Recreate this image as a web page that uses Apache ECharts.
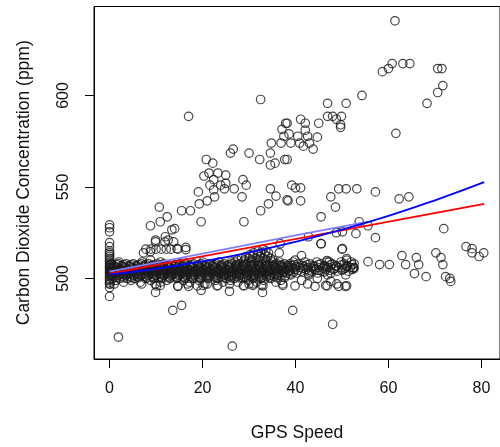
<!DOCTYPE html>
<html><head><meta charset="utf-8">
<script src="https://cdn.jsdelivr.net/npm/echarts@6/dist/echarts.min.js"></script>
<style>html,body{margin:0;padding:0;background:#fff}#c{width:500px;height:447px}</style>
</head><body><div id="c"></div>
<script>
// ---- data (GPS speed, CO2 ppm) ----
const xTicks = [0, 20, 40, 60, 80];
const yTicks = [500, 550, 600];
const xTitle = 'GPS Speed';
const yTitle = 'Carbon Dioxide Concentration (ppm)';

// column of points at speed ~0
const zeroColumnCO2 = [529.3, 527.7, 525.5, 519.6, 517.4, 515, 514, 513, 512, 511, 510, 509, 508, 507, 506, 505, 504, 503, 502, 501, 500, 499, 498, 497, 495, 490.2];

// dense band rows: each row = [co2, speeds...]
const bandRows = [
  [509, 2, 7, 11, 16, 20, 23.5, 26.2, 27, 28.8, 30.4, 31.9, 33.5, 35, 36.5, 39.5, 42, 44.6, 47.3, 49.8, 52],
  [508, 0.4, 1.9, 3.6, 5.1, 6.9, 8.4, 10.2, 11.6, 13.3, 15, 16.4, 18.1, 19.8, 21.5, 23, 24.6, 26.3, 27.9, 29.4, 31.2, 32.7, 34.5, 36, 37.6, 38.8, 40.6, 43.1, 45.4, 47.9, 50.5, 52.6],
  [507.5, 0.1, 1.5, 3.0, 4.6, 6.2, 7.8, 9.4, 11.0, 12.7, 14.3, 15.9, 17.6, 19.2, 20.8, 22.5, 24.1, 25.7, 27.3, 29.0, 30.6, 32.2, 33.9, 35.5, 37.0, 39.8, 42.5, 45.0, 47.6, 50.0, 52.2],
  [507, 0.9, 2.6, 4.2, 5.8, 7.5, 9.1, 10.8, 12.4, 14, 15.7, 17.3, 19, 20.6, 22.2, 23.9, 25.4, 27.1, 28.6, 30.3, 31.9, 33.6, 35.2, 36.8, 38.3, 39.2, 41.5, 43.9, 46.2, 48.6, 51],
  [506.5, 1.1, 2.8, 4.3, 6.0, 7.6, 9.2, 10.9, 12.5, 14.1, 15.8, 17.4, 19.0, 20.7, 22.3, 23.9, 25.6, 27.2, 28.8, 30.4, 32.1, 33.7, 35.3, 37.0, 38.6, 40.1, 41.9, 44.0, 46.3, 48.8, 51.1],
  [506, 0.2, 1.6, 3.1, 4.8, 6.4, 8, 9.7, 11.3, 12.9, 14.6, 16.1, 17.8, 19.4, 21, 22.7, 24.3, 25.9, 27.5, 29.1, 30.7, 32.4, 34, 35.7, 37.2, 38.5, 40.9, 42.7, 45, 47, 49.3, 51.8, 52.5],
  [505.5, 0.4, 2.0, 3.6, 5.2, 6.8, 8.4, 10.0, 11.7, 13.3, 14.9, 16.6, 18.2, 19.8, 21.5, 23.1, 24.7, 26.4, 28.0, 29.6, 31.2, 32.9, 34.5, 36.1, 37.7, 39.4, 41.6, 43.8, 46.0, 48.4, 50.7, 52.6],
  [505, 0.7, 2.3, 3.9, 5.5, 7.1, 8.7, 10.4, 12, 13.6, 15.3, 16.9, 18.5, 20.2, 21.8, 23.4, 25, 26.7, 28.3, 29.8, 31.5, 33.1, 34.8, 36.4, 38, 39.9, 42.3, 44.2, 46.6, 48.2, 50.2, 52.3],
  [504.5, 1.2, 2.9, 4.5, 6.1, 7.7, 9.3, 11.0, 12.6, 14.2, 15.9, 17.5, 19.1, 20.8, 22.4, 24.0, 25.6, 27.3, 28.9, 30.6, 32.2, 33.8, 35.4, 37.1, 38.8, 40.6, 42.8, 45.1, 47.4, 50.0],
  [504, 0.3, 1.8, 3.4, 5, 6.7, 8.3, 9.9, 11.6, 13.2, 14.8, 16.5, 18.2, 19.7, 21.3, 23.1, 24.7, 26.2, 27.8, 29.5, 31.1, 32.8, 34.3, 35.9, 37.5, 38.6, 41.2, 43.5, 45.8, 49, 51.4],
  [503.5, 0.2, 1.8, 3.4, 5.0, 6.6, 8.2, 9.8, 11.4, 13.1, 14.7, 16.3, 18.0, 19.6, 21.2, 22.9, 24.5, 26.1, 27.7, 29.4, 31.0, 32.6, 34.2, 35.9, 37.5, 39.6, 43.0, 46.2],
  [503, 0.8, 2.5, 4.1, 5.7, 7.3, 8.9, 10.6, 12.2, 13.8, 15.5, 17.1, 18.7, 20.4, 22, 23.6, 25.2, 26.9, 28.5, 30.1, 31.8, 33.4, 35, 36.6, 38.2, 40.2, 44.8, 47.6],
  [502.5, 1.3, 3.0, 4.6, 6.2, 7.8, 9.4, 11.1, 12.7, 14.3, 16.0, 17.6, 19.2, 20.9, 22.5, 24.1, 25.8, 27.4, 29.0, 30.6, 32.3, 33.9, 35.5, 37.2, 38.8],
  [502, 0.5, 2, 3.7, 5.3, 6.9, 8.5, 10.1, 11.8, 13.4, 15.1, 16.7, 18.3, 19.9, 21.6, 23.2, 24.9, 26.5, 28.1, 29.7, 31.3, 33, 34.6, 36.2, 39, 42.9, 46.9, 50.8],
  [501.5, 0.3, 1.9, 3.5, 5.1, 6.7, 8.3, 10.0, 11.6, 13.2, 14.9, 16.5, 18.1, 19.8, 21.4, 23.0, 24.7, 26.3, 27.9, 29.6, 31.2, 32.8, 34.4, 36.1, 37.8],
  [501, 1, 2.7, 4.4, 6, 7.6, 9.3, 10.9, 12.6, 14.2, 15.8, 17.5, 19.1, 20.8, 22.4, 24, 25.7, 27.3, 28.9, 30.5, 32.2, 33.8, 35.4],
  [500.5, 1.5, 3.1, 4.7, 6.3, 8.0, 9.6, 11.3, 12.9, 14.6, 16.2, 17.9, 19.5, 21.2, 22.8, 24.5, 26.1, 27.8, 29.4, 31.1, 32.7, 34.4, 36.0, 37.7],
  [500, 0.6, 2.2, 3.8, 5.4, 7.8, 9.5, 11.2, 13, 14.5, 16.2, 18, 19.6, 21.2, 23.3, 25.1, 26.8, 28.7, 30.9, 32.6, 34.7],
  [499, 1.4, 4.6, 8.8, 12.3, 15.9, 19.3, 22.8, 26, 29.9, 33.2, 36.9],
  [498, 3, 6.6, 11, 17.2, 24.4, 27.6, 31.6, 35.8],
  [497, 0.1, 9.8, 20.5, 30, 1, 6.9, 16.8, 21, 25.8, 30.9, 37.2, 42.6, 48.9],
  [496, 10.1, 14.7, 18.9, 23.1, 28.8, 33, 39.9, 46.8, 51],
  // small cluster under the fit lines
  [510, 27.5, 29, 30.6, 32.1, 33.7, 35.2, 8.8, 39.9, 51],
  [511, 28.4, 30, 31.5, 33, 34.6],
  [512, 29.3, 30.8, 32.4, 34],
  [513, 30.2, 31.8, 33.4],
  [514, 31, 32.6, 34.2],
  [515, 32, 33.6],
  [516, 33, 7.8, 8.9, 10, 11.1, 12.2, 13.2, 14.7, 50]
];

// scattered points above the band
const upperPoints = [
  [17.0,588.6],[32.5,597.8],[37.9,584.8],[37.1,581.5],[37.5,577.7],[38.6,579],[34.8,574],[36.9,574],[39.0,574],
  [26.6,570.7],[26.0,568.5],[30.0,568.5],[34.6,568.5],[32.3,565],[20.8,565],[22.2,563],[34.6,562],[35.6,563],[37.7,565],
  [39.2,551],[20.3,556],[21.4,557.6],[23.3,557.6],[25.0,556.5],[22.4,554],[21.6,551],[23.9,551],[25.0,552],[28.7,554],
  [29.4,551],[19.1,547.3],[22.4,548.4],[24.7,549],[26.8,549],[34.6,549],[35.8,545],[38.2,543],
  [61.4,640.8],[60.8,617.4],[63.1,617.4],[64.6,617.4],[58.7,613],[60.0,614.7],[70.6,614.7],[71.5,614.7],[71.7,605.4],
  [70.6,601.6],[68.3,595.7],[61.6,579.3],[54.3,600],[50.9,595.7],[46.9,595.7],[46.9,588.6],[48.0,588.6],[49.9,588.6],
  [48.8,587],[49.7,584],[49.7,582.6],[45.0,584.8],[41.1,587],[42.1,584.8],[42.1,581],[38.2,584.8],[40.5,577.7],
  [42.6,577.7],[44.7,577.2],[40.9,574],[43.0,574],[41.7,572.3],[43.8,570.7],[38.2,565],[40.0,549.5],[41.1,549.5],
  [49.3,549],[50.9,549],[53.2,549],[57.2,547.3],[47.6,544.6],[62.3,543.5],[64.4,544.6],
  [41.1,542.4],[48.6,539],[45.5,533.7],[53.7,531],[55.6,528.8],[53.0,524.5],[50.1,525.5],[48.8,525],[57.2,522.3],
  [71.9,527.2],[42.8,522.8],[45.5,519],[50.1,516.3],[36.7,519],
  [10.7,539],[8.8,528.8],[10.9,531],[12.4,533.7],[14.0,527.2],[19.7,531],[28.9,531],[15.5,537],[17.4,537],[19.3,540.8],
  [21.0,542.4],[22.6,544.6],[28.5,544.6],[32.5,537],[34.2,540.8],[38.4,542.4],[36.5,514],[9.9,520],[12.0,522.8],
  [13.8,520],[11.9,520],[14.5,516.3],[16.4,515.8],[7.3,514],[8.8,514.7],[13.4,526.6],[9.9,521],[12.6,521],[16.4,517]
];

// scattered points below the band and to the right of it
const otherPoints = [
  [1.9,468],[26.4,463],[13.6,482.6],[15.5,485.3],[9.9,492.4],[39.4,482.6],[48.0,475],[25.8,493],[19.7,493.5],
  [10.9,496.2],[14.7,495.7],[17,495.7],[20.1,496.2],[23.3,496.2],[28.9,496.2],[30.8,496.2],[32.9,492.4],[32.7,496.2],
  [37.3,496.2],[41.3,499],[44.2,495.7],[46.5,496.2],[49.3,495.7],[50.7,495.7],[47.6,498.4],[44.7,500],[42.8,502.7],
  [58.1,507.6],[60.2,507.6],[62.9,512.5],[63.7,507.6],[66.0,511.4],[66.5,507.6],[65.6,502.7],[68.1,501],[70.2,514],
  [71.3,511.4],[71.7,507.6],[72.3,501],[73.2,500],[73.4,498.4],[76.7,517.4],[78.0,516.3],[78.0,514],[79.5,512],
  [80.5,514],[55.6,509.2],[51,510.9],[46.8,509.8],[41.3,512.5],[45.5,519],[46.8,509],[52.5,506]
];

// fitted lines
const redFit = [[0, 502.7], [80.6, 540.8]];
const blueFit = [[0,502.2],[10,505.3],[20,509.3],[30,514.2],[40,520.0],[50,526.7],[60,534.2],[70,542.7],[80.6,552.6]];
const lightBlueFit = [[0,503.8],[20,513.6],[40,523.5],[55,530.8]];

// ---- build ----
const pts = [];
zeroColumnCO2.forEach(v => pts.push([0, v]));
bandRows.forEach(r => { for (let i = 1; i < r.length; i++) pts.push([r[i], r[0]]); });
upperPoints.forEach(p => pts.push(p));
otherPoints.forEach(p => pts.push(p));

const font = 'Liberation Sans, Arial, sans-serif';
const chart = echarts.init(document.getElementById('c'), null, {renderer: 'canvas'});
chart.setOption({
  animation: false,
  backgroundColor: '#fff',
  grid: {left: 94, right: -11, top: 6.5, bottom: 87, show: true, borderColor: '#000', borderWidth: 1, containLabel: false},
  xAxis: {
    type: 'value', min: -3.35, max: 84,
    name: xTitle, nameLocation: 'middle', nameGap: 65,
    nameTextStyle: {fontFamily: font, fontSize: 17.5, color: '#111'},
    axisLine: {show: true, onZero: false, lineStyle: {color: '#000'}},
    axisTick: {show: true, length: 9, customValues: xTicks, lineStyle: {color: '#000'}},
    axisLabel: {customValues: xTicks, margin: 22, fontFamily: font, fontSize: 16, color: '#111'},
    splitLine: {show: false}
  },
  yAxis: {
    type: 'value', min: 456.0, max: 648.6,
    name: yTitle, nameLocation: 'middle', nameGap: 61, nameRotate: 90,
    nameTextStyle: {fontFamily: font, fontSize: 17.5, color: '#111'},
    axisLine: {show: true, onZero: false, lineStyle: {color: '#000'}},
    axisTick: {show: true, length: 9, customValues: yTicks, lineStyle: {color: '#000'}},
    axisLabel: {customValues: yTicks, rotate: 90, margin: 22, fontFamily: font, fontSize: 16, color: '#111'},
    splitLine: {show: false}
  },
  series: [
    {type: 'scatter', data: pts, symbol: 'circle', symbolSize: 8.5,
     itemStyle: {color: 'rgba(0,0,0,0)', borderColor: '#1a1a1a', borderWidth: 1.2}, z: 2},
    {type: 'line', data: lightBlueFit, symbol: 'none', lineStyle: {color: '#8080ff', width: 1.8}, z: 3},
    {type: 'line', data: redFit, symbol: 'none', lineStyle: {color: '#ff0000', width: 1.8}, z: 4},
    {type: 'line', data: blueFit, symbol: 'none', smooth: true, lineStyle: {color: '#0000ff', width: 1.8}, z: 5}
  ]
});
</script></body></html>
